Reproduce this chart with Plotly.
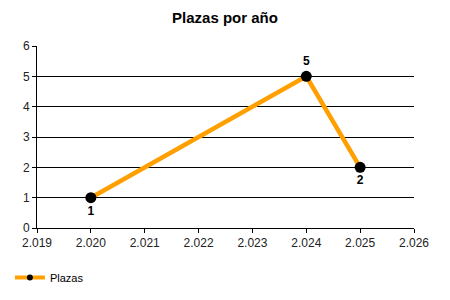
import plotly.graph_objects as go

years = [2020, 2024, 2025]
plazas = [1, 5, 2]
label_pos = ["bottom center", "top center", "bottom center"]
x_ticks = [2019, 2020, 2021, 2022, 2023, 2024, 2025, 2026]
x_tick_labels = ["2.019", "2.020", "2.021", "2.022", "2.023", "2.024", "2.025", "2.026"]
y_ticks = [0, 1, 2, 3, 4, 5, 6]

fig = go.Figure()
fig.add_trace(go.Scatter(
    x=years, y=plazas, mode="lines+markers+text", name="Plazas", showlegend=False,
    line=dict(color="#FFA000", width=4.5),
    marker=dict(color="black", size=11),
    text=[str(v) for v in plazas], textposition=label_pos,
    textfont=dict(family="Liberation Sans", size=12, color="black", weight="bold"),
    cliponaxis=False,
))
# legend entry with small marker
fig.add_trace(go.Scatter(
    x=[None], y=[None], mode="lines+markers", name="Plazas",
    line=dict(color="#FFA000", width=4), marker=dict(color="black", size=6),
))
fig.update_layout(
    width=450, height=300,
    margin=dict(l=37, r=36, t=46, b=72),
    paper_bgcolor="white", plot_bgcolor="white",
    title=dict(text="<b>Plazas por año</b>", x=0.5, xanchor="center", y=0.94, yanchor="middle",
               font=dict(family="Liberation Sans", size=15, color="black")),
    font=dict(family="Liberation Sans", size=12, color="#222"),
    showlegend=True,
    legend=dict(orientation="h", xref="container", yref="container", x=0.022, y=0.075,
                xanchor="left", yanchor="middle", font=dict(size=11, color="black"),
                itemwidth=30),
    xaxis=dict(range=[2019, 2026], tickvals=x_ticks, ticktext=x_tick_labels,
               showgrid=False, showline=True, linecolor="black", linewidth=1,
               ticks="outside", ticklen=4, tickcolor="black", zeroline=False),
    yaxis=dict(range=[0, 6], tickvals=y_ticks, showgrid=True, gridcolor="black", gridwidth=1,
               showline=True, linecolor="black", linewidth=1,
               ticks="outside", ticklen=4, tickcolor="black", zeroline=False),
)
fig.write_html("out.html")
